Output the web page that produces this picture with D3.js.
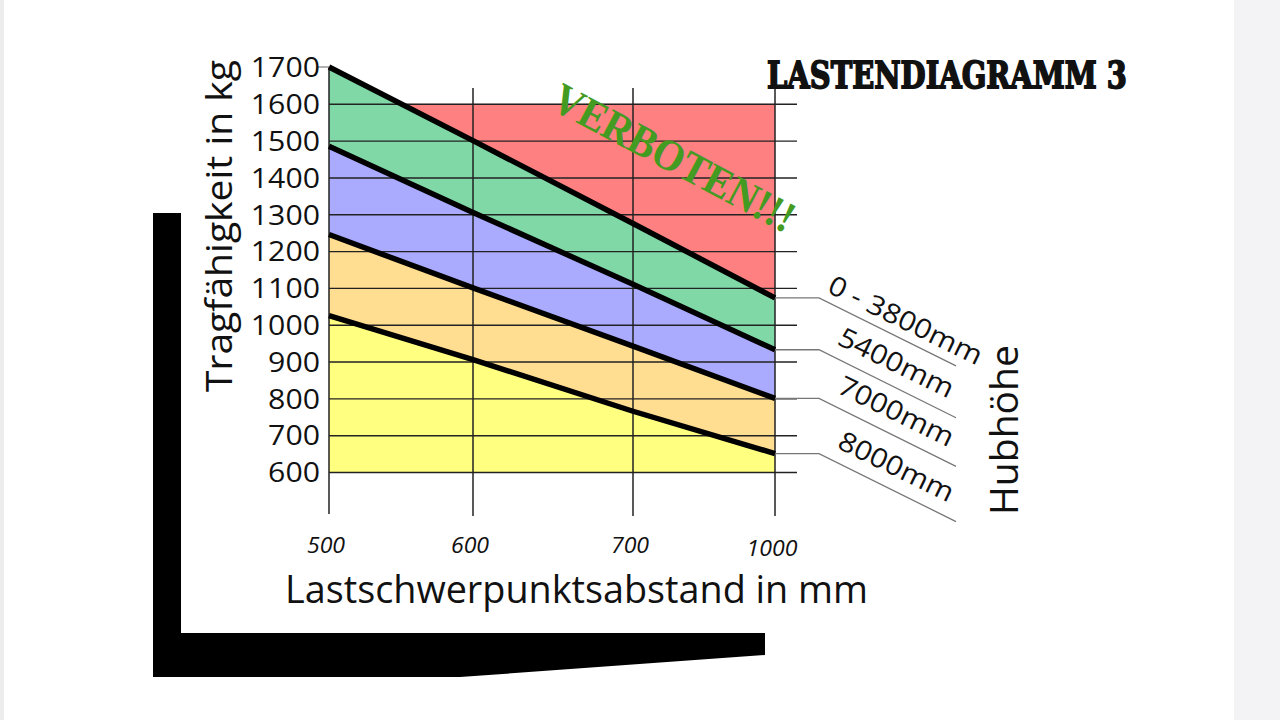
<!DOCTYPE html>
<html>
<head>
<meta charset="utf-8">
<script src="https://cdn.jsdelivr.net/npm/d3@7"></script>
<style>
  body { margin: 0; background: #fff; }
  svg { display: block; font-family: "Open Sans", sans-serif; }
</style>
</head>
<body>
<svg id="chart" width="1280" height="720"></svg>
<script>
// Lastschwerpunktsabstand (mm) on the x axis
const abstand = [500, 600, 700, 1000];
// Hubhöhe classes, one load curve each
const hubhoehe = ["0 - 3800mm", "5400mm", "7000mm", "8000mm"];
const last0_3800 = [1700, 1500, 1275, 1073];
const last5400 = [1485, 1305, 1110, 932];
const last7000 = [1245, 1100, 942, 800];
const last8000 = [1025, 905, 765, 650];
// y tick labels and gridlines
const tragTicks = [600, 700, 800, 900, 1000, 1100, 1200, 1300, 1400, 1500, 1600, 1700];
const gridTicks = [600, 700, 800, 900, 1000, 1100, 1200, 1300, 1400, 1500, 1600];
const verbotenGrenze = 1600;
const minLast = 600;

const series = [last0_3800, last5400, last7000, last8000];
const bandColors = ["#80d8a7", "#aaaaff", "#ffdd91", "#ffff80"];

const svg = d3.select("#chart");

// page edges
svg.append("rect").attr("x", 0).attr("y", 0).attr("width", 4).attr("height", 720).attr("fill", "#ececec");
svg.append("rect").attr("x", 1234).attr("y", 0).attr("width", 46).attr("height", 720).attr("fill", "#f3f3f5");

// the x positions are not evenly spaced in the original, so a piecewise scale
const x = d3.scaleLinear().domain(abstand).range([329, 473, 633, 775]);
const y = d3.scaleLinear().domain([600, 1700]).range([472, 67]);

const gridTop = 88, gridBottom = 516, gridRight = x(1000) + 22;

// fork of the forklift
svg.append("path")
  .attr("d", "M153,213 L181,213 L181,633 L765,633 L765,655 L460,677 L153,677 Z")
  .attr("fill", "#000");

const chart = svg.append("g");

// forbidden zone, the bands below cover everything under the top curve
chart.append("rect")
  .attr("x", x(500)).attr("y", y(verbotenGrenze))
  .attr("width", x(1000) - x(500)).attr("height", y(minLast) - y(verbotenGrenze))
  .attr("fill", "#ff8080");

const area = d3.area()
  .x(d => x(d.a))
  .y0(d => y(d.bot))
  .y1(d => y(d.top));

series.forEach((s, i) => {
  const next = series[i + 1];
  const rows = abstand.map((a, j) => ({ a: a, top: s[j], bot: next ? next[j] : minLast }));
  chart.append("path").datum(rows).attr("d", area).attr("fill", bandColors[i]);
});

// horizontal gridlines
chart.append("g")
  .attr("transform", `translate(${x(500)},0)`)
  .call(d3.axisRight(y).tickValues(gridTicks).tickSize(gridRight - x(500)).tickFormat(""))
  .call(g => g.select(".domain").remove())
  .call(g => g.selectAll("line").attr("stroke", "#222").attr("stroke-width", 1.4));

// vertical lines
chart.append("g").selectAll("line")
  .data(abstand)
  .join("line")
  .attr("x1", d => x(d)).attr("x2", d => x(d))
  .attr("y1", d => d === 500 ? y(1700) : gridTop)
  .attr("y2", d => d === 500 ? gridBottom - 2 : gridBottom)
  .attr("stroke", "#222").attr("stroke-width", 1.5);

// small tick at 1700
chart.append("line")
  .attr("x1", x(500) - 12).attr("x2", x(500))
  .attr("y1", y(1700)).attr("y2", y(1700))
  .attr("stroke", "#999").attr("stroke-width", 1.5);

// y tick labels (the original digits are a bit wide)
chart.append("g")
  .attr("transform", `translate(${x(500) - 9},0)`)
  .call(d3.axisLeft(y).tickValues(tragTicks).tickSize(0).tickPadding(0).tickFormat(d3.format("d")))
  .call(g => g.select(".domain").remove())
  .call(g => g.selectAll("text")
    .attr("font-family", "Open Sans").attr("font-size", 27).attr("fill", "#111")
    .attr("dy", "0.36em")
    .attr("textLength", d => String(d).length * 17.3)
    .attr("lengthAdjust", "spacingAndGlyphs"));

// x tick labels
chart.append("g").selectAll("text")
  .data(abstand)
  .join("text")
  .attr("transform", d => `translate(${x(d) - 3},${d === 1000 ? 556 : 553}) scale(1.1,1)`)
  .attr("text-anchor", "middle")
  .attr("font-style", "italic")
  .attr("font-size", 21)
  .attr("fill", "#111")
  .text(d => d);

// load curves
const line = d3.line().x((d, j) => x(abstand[j])).y(d => y(d));
chart.append("g").selectAll("path")
  .data(series)
  .join("path")
  .attr("d", line)
  .attr("fill", "none")
  .attr("stroke", "#000")
  .attr("stroke-width", 5.5);

// leader lines and Hubhöhe labels
const leaderX = 819, diagDx = 137, diagDy = 68;
const leaders = chart.append("g");
series.forEach((s, i) => {
  const yEnd = y(s[s.length - 1]);
  leaders.append("path")
    .attr("d", `M${x(1000)},${yEnd} L${leaderX},${yEnd} L${leaderX + diagDx},${yEnd + diagDy}`)
    .attr("fill", "none").attr("stroke", "#777").attr("stroke-width", 1.3);
  leaders.append("text")
    .attr("transform", `translate(${leaderX + (i === 0 ? 7 : 17)},${yEnd - 6}) rotate(26) scale(1.12,1)`)
    .attr("font-size", 27)
    .attr("fill", "#111")
    .text(hubhoehe[i]);
});

// axis titles
svg.append("text")
  .attr("transform", "translate(232,226) rotate(-90)")
  .attr("text-anchor", "middle")
  .attr("font-size", 37)
  .attr("fill", "#111")
  .attr("textLength", 332).attr("lengthAdjust", "spacingAndGlyphs")
  .text("Tragfähigkeit in kg");

svg.append("text")
  .attr("x", 285).attr("y", 603)
  .attr("font-size", 38)
  .attr("fill", "#111")
  .attr("textLength", 583).attr("lengthAdjust", "spacingAndGlyphs")
  .text("Lastschwerpunktsabstand in mm");

svg.append("text")
  .attr("transform", "translate(1018,430) rotate(-90)")
  .attr("text-anchor", "middle")
  .attr("font-size", 38)
  .attr("fill", "#111")
  .attr("textLength", 170).attr("lengthAdjust", "spacingAndGlyphs")
  .text("Hubhöhe");

// title
svg.append("text")
  .attr("x", 767).attr("y", 88)
  .attr("font-family", "DejaVu Serif").attr("font-weight", "bold")
  .attr("font-size", 38)
  .attr("fill", "#111").attr("stroke", "#111").attr("stroke-width", 1.8)
  .attr("textLength", 360).attr("lengthAdjust", "spacingAndGlyphs")
  .text("LASTENDIAGRAMM 3");

// warning in the red zone
svg.append("text")
  .attr("transform", "translate(674,158) rotate(28)")
  .attr("text-anchor", "middle")
  .attr("dominant-baseline", "central")
  .attr("font-family", "Liberation Serif").attr("font-weight", "bold")
  .attr("font-size", 44)
  .attr("fill", "#449b22")
  .attr("textLength", 268).attr("lengthAdjust", "spacingAndGlyphs")
  .text("VERBOTEN!!!");
</script>
</body>
</html>
